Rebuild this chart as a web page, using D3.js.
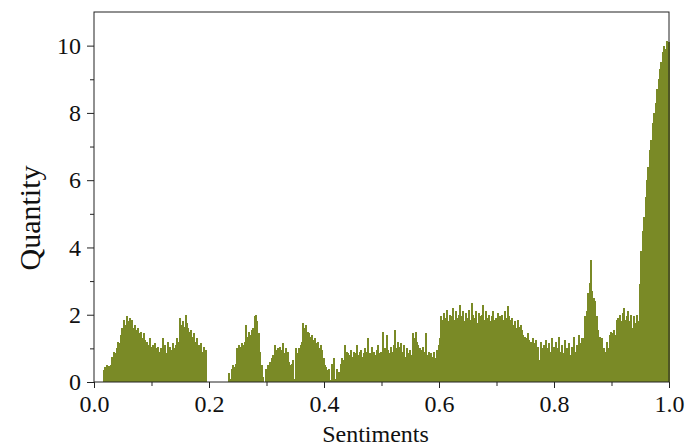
<!DOCTYPE html>
<html>
<head>
<meta charset="utf-8">
<script src="https://cdn.jsdelivr.net/npm/d3@7"></script>
<style>
  body { margin: 0; background: #fff; }
  text { font-family: "Liberation Serif", "Times New Roman", serif; fill: #111; }
</style>
</head>
<body>
<div id="chart"></div>
<script>
const w = 686;
const h = 447;

// histogram of sentiment scores, bins of 0.0025 from 0 to 1
const binWidth = 0.0025;
const quantity = [
  0,0,0,0,0,0,0.35,0.45,0.5,0.42, 0.48,0.5,0.75,0.9,0.85,1.0,1.2,1.15,1.4,1.6,
  1.85,1.7,1.96,1.8,1.9,1.75,1.85,1.6, 1.7,1.55,1.6,1.45,1.5,1.3,1.45,1.25,1.2,1.1,1.3,1.05,
  1.1,0.95,1.15,1.0,1.05,0.9,1.0,1.3, 0.95,1.1,0.85,1.2,1.05,0.95,1.15,1.0,1.1,1.3,1.2,1.9,
  1.7,1.8,1.65,2.0,1.75,1.6,1.5,1.55, 1.35,1.45,1.2,1.3,1.1,0.95,1.15,0.9,1.05,0.95,0,0,
  0,0,0,0,0,0,0,0, 0,0,0,0,0,0.27,0.08,0.4,0.5,0.45,0.55,1.0,
  1.1,1.05,1.15,1.1,1.2,1.7,1.35,1.5, 1.4,1.55,1.6,1.95,2.0,1.8,1.45,0.9,0.5,0.15,0,0.4,
  0.5,0.12,0.6,0.7,0.8,1.1,0.95,1.0, 0.9,1.05,0.95,1.15,0.85,1.0,0.9,0.6,0.5,0.55,0.65,0.1,
  1.0,0.85,1.0,1.1,1.2,1.75,1.6,1.7, 1.5,1.45,1.35,1.4,1.25,1.3,1.15,1.2,1.0,1.1,0.95,0.7,
  0.5,0.45,0.35,0.4,0.05,0.55,0.7,0.1, 0.4,0.08,0.3,0.55,0.7,0.65,1.1,0.9,0.85,0.8,0.95,0.75,
  0.9,0.85,1.1,0.8,0.9,0.95,0.75,0.85, 1.0,0.9,1.3,0.85,0.7,1.05,0.9,0.8,0.95,1.1,0.85,0.9,
  1.5,0.9,1.0,1.4,0.95,0.85,1.05,0.9, 1.1,1.55,1.0,1.2,1.05,1.15,0.9,1.1,0.75,1.0,0.85,0.95,
  0.8,1.45,1.3,1.5,1.2,1.1,1.0,0.95, 1.05,0.9,1.45,0.8,0.9,0.65,0.85,0.75,0.9,0.7,0.95,1.1,
  1.3,1.95,1.85,2.05,1.9,2.15,1.8,2.0, 1.95,2.2,1.85,2.1,1.9,2.0,2.3,1.95,2.1,1.8,2.05,1.9,
  2.15,1.85,2.35,2.0,1.9,2.1,1.75,2.05, 1.95,2.0,2.3,1.85,2.1,1.9,2.0,1.8,1.95,2.1,1.85,1.9,
  2.05,1.8,1.95,2.0,1.85,2.1,1.9,2.25, 1.95,1.85,1.9,1.7,1.8,1.6,1.85,1.65,1.7,1.55,1.4,1.35,
  1.3,1.45,1.25,1.2,1.1,1.3,1.15,1.25, 1.05,0.65,1.2,1.0,1.1,0.85,1.25,1.0,1.15,0.9,1.3,1.05,
  0.95,1.2,1.0,1.35,0.9,1.1,0.85,1.25, 1.0,0.95,1.15,0.8,1.05,1.35,0.9,1.1,1.0,1.4,1.15,1.3,
  1.3,1.95,2.1,2.65,2.95,3.63,2.7,2.5, 2.4,1.95,1.55,1.35,1.1,1.3,1.0,0.9,1.2,1.0,1.4,1.5,
  1.45,1.55,1.4,1.85,1.9,2.0,1.8,2.05, 2.2,1.85,1.95,2.1,1.8,2.0,1.6,1.95,1.75,2.0,1.8,2.9,
  3.9,4.5,4.9,5.5,6.0,6.4,6.9,7.2, 7.7,8.0,8.3,8.7,9.0,9.3,9.5,9.8,10.0,9.9,10.15,10.1
];

const xMajor = [0, 0.2, 0.4, 0.6, 0.8, 1.0];
const xMinor = [0.1, 0.3, 0.5, 0.7, 0.9];
const yMajor = [0, 2, 4, 6, 8, 10];
const yMinor = [1, 3, 5, 7, 9];
const xTitle = "Sentiments";
const yTitle = "Quantity";

const plotLeft = 94, plotRight = 669, plotTop = 12, plotBottom = 382;

const svg = d3.select("#chart").append("svg")
  .attr("width", w)
  .attr("height", h);

const x = d3.scaleLinear().domain([0, 1]).range([plotLeft, plotRight]);
const y = d3.scaleLinear().domain([0, 11]).range([plotBottom, plotTop]);

// crisp, slightly overlapping bars so no light seams show between neighbours
svg.append("g")
  .attr("shape-rendering", "crispEdges")
  .selectAll("rect")
  .data(quantity)
  .enter()
  .append("rect")
  .attr("x", (d, i) => x(i * binWidth))
  .attr("width", (d, i) => x((i + 1) * binWidth) - x(i * binWidth) + 0.6)
  .attr("y", (d) => y(d))
  .attr("height", (d) => y(0) - y(d))
  .style("fill", "#7a8a26");

// frame
svg.append("rect")
  .attr("x", plotLeft).attr("y", plotTop)
  .attr("width", plotRight - plotLeft).attr("height", plotBottom - plotTop)
  .style("fill", "none").style("stroke", "#222").style("stroke-width", 1);

svg.append("g").attr("transform", `translate(0,${plotBottom})`)
  .call(d3.axisBottom(x).tickValues(xMajor).tickFormat(d3.format(".1f")).tickSize(6).tickPadding(7));
svg.append("g").attr("transform", `translate(0,${plotBottom})`)
  .call(d3.axisBottom(x).tickValues(xMinor).tickFormat("").tickSize(4));

svg.append("g").attr("transform", `translate(${plotLeft},0)`)
  .call(d3.axisLeft(y).tickValues(yMajor).tickSize(7).tickPadding(6));
svg.append("g").attr("transform", `translate(${plotLeft},0)`)
  .call(d3.axisLeft(y).tickValues(yMinor).tickFormat("").tickSize(4));

svg.selectAll(".domain").remove();
svg.selectAll(".tick line").style("stroke", "#222");
svg.selectAll(".tick text")
  .style("font-family", "'Liberation Serif', serif")
  .style("font-size", "24px")
  .style("fill", "#111");

svg.append("text")
  .attr("x", (plotLeft + plotRight) / 2 - 6)
  .attr("y", 442)
  .attr("text-anchor", "middle")
  .style("font-size", "24px")
  .text(xTitle);

svg.append("text")
  .attr("transform", "translate(40,218) rotate(-90)")
  .attr("text-anchor", "middle")
  .style("font-size", "30px")
  .text(yTitle);
</script>
</body>
</html>
